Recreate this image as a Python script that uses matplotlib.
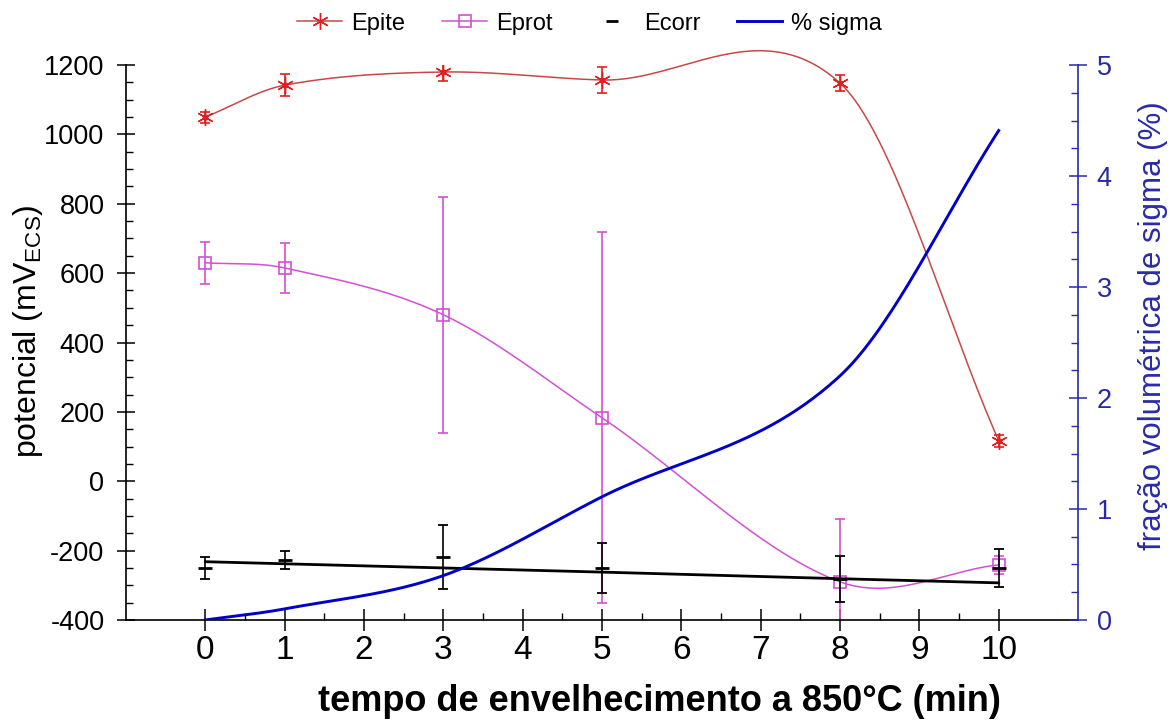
import numpy as np
import matplotlib
matplotlib.use("Agg")
import matplotlib.pyplot as plt
from matplotlib.lines import Line2D
from matplotlib.ticker import MultipleLocator, FixedLocator

plt.rcParams['font.family'] = ['Liberation Sans', 'DejaVu Sans']
plt.rcParams['mathtext.fontset'] = 'custom'
plt.rcParams['mathtext.rm'] = 'Liberation Sans'
plt.rcParams['axes.unicode_minus'] = False

# aging time (min)
tempo = [0, 1, 3, 5, 8, 10]

# pitting potential (mV)
epite = [1050, 1142, 1180, 1157, 1148, 117]
epite_err = [16, 32, 25, 37, 22, 17]

# protection potential (mV)
eprot = [630, 615, 480, 183, -290, -241]
eprot_err = [61, 72, 340, 535, 182, 26]

# corrosion potential (mV) and its fitted line
ecorr = [-250, -226, -218, -250, -282, -250]
ecorr_err = [32, 26, 92, 73, 67, 56]
ecorr_fit = [-232, -238, -250, -262, -281, -293]

# sigma phase volume fraction (%)
sigma = [0.0, 0.10, 0.40, 1.11, 2.20, 4.41]

C_EPITE = '#e02020'
C_EPITE_LINE = '#c84848'
C_EPROT = '#d54fd5'
C_SIGMA = '#0000c8'
C_RAXIS = '#2a2aa8'


def smooth_curve(x, y, n=300):
    """Cubic Hermite curve through the points, tangents from neighbours"""
    x = np.asarray(x, float)
    y = np.asarray(y, float)
    m = np.empty_like(y)
    m[0] = (y[1] - y[0]) / (x[1] - x[0])
    m[-1] = (y[-1] - y[-2]) / (x[-1] - x[-2])
    m[1:-1] = (y[2:] - y[:-2]) / (x[2:] - x[:-2])
    xs = np.linspace(x[0], x[-1], n)
    i = np.clip(np.searchsorted(x, xs) - 1, 0, len(x) - 2)
    h = x[i + 1] - x[i]
    t = (xs - x[i]) / h
    h00 = 2 * t ** 3 - 3 * t ** 2 + 1
    h10 = t ** 3 - 2 * t ** 2 + t
    h01 = -2 * t ** 3 + 3 * t ** 2
    h11 = t ** 3 - t ** 2
    ys = h00 * y[i] + h10 * h * m[i] + h01 * y[i + 1] + h11 * h * m[i + 1]
    return xs, ys


fig = plt.figure(figsize=(11.7, 7.23), dpi=100)
ax = fig.add_axes([0.1077, 0.1425, 0.8137, 0.7675])
ax2 = ax.twinx()

# Epite (the curve goes a bit above the top of the axis, as in the original)
xs, ys = smooth_curve(tempo, epite)
ax.plot(xs, ys, color=C_EPITE_LINE, lw=1.1, clip_on=False)
ax.errorbar(tempo, epite, yerr=epite_err, fmt='none', ecolor=C_EPITE,
            elinewidth=1.2, capsize=3.5, capthick=1.2)
ax.plot(tempo, epite, ls='none', marker=(6, 2, 0), ms=12, mec=C_EPITE, mew=1.0)
ax.plot(tempo, epite, ls='none', marker='o', ms=3, color=C_EPITE)

# Eprot
xs, ys = smooth_curve(tempo, eprot)
ax.plot(xs, ys, color=C_EPROT, lw=1.1)
ax.errorbar(tempo, eprot, yerr=eprot_err, fmt='none', ecolor=C_EPROT,
            elinewidth=1.2, capsize=3.5, capthick=1.2)
ax.plot(tempo, eprot, ls='none', marker='s', ms=9, mfc='none', mec=C_EPROT, mew=1.2)

# Ecorr
ax.plot(tempo, ecorr_fit, color='black', lw=2.0)
ax.errorbar(tempo, ecorr, yerr=ecorr_err, fmt='none', ecolor='black',
            elinewidth=1.2, capsize=3.5, capthick=1.3)
ax.plot(tempo, ecorr, ls='none', marker='_', ms=10, mew=2.0, color='black')

# % sigma
xs, ys = smooth_curve(tempo, sigma)
ax2.plot(xs, ys, color=C_SIGMA, lw=2.1)

# axes
ax.set_xlim(-1, 11)
ax.set_ylim(-400, 1200)
ax2.set_ylim(0, 5)
ax.set_xticks(np.arange(0, 11))
ax.xaxis.set_minor_locator(FixedLocator(np.arange(0.5, 10, 1.0)))
ax.yaxis.set_major_locator(MultipleLocator(200))
ax.yaxis.set_minor_locator(MultipleLocator(50))
ax2.yaxis.set_major_locator(MultipleLocator(1))
ax2.yaxis.set_minor_locator(MultipleLocator(0.25))

for s in ['top', 'right']:
    ax.spines[s].set_visible(False)
for s in ['top', 'left', 'bottom']:
    ax2.spines[s].set_visible(False)
ax2.spines['right'].set_color(C_RAXIS)
for s in ax.spines.values():
    s.set_linewidth(1.2)
ax2.spines['right'].set_linewidth(1.2)

ax.tick_params(axis='y', which='major', direction='inout', length=13, width=1.1,
               labelsize=19.5, pad=9)
ax.tick_params(axis='y', which='minor', direction='in', length=5, width=1.0)
ax.tick_params(axis='x', which='major', direction='inout', length=16, width=1.1,
               labelsize=24, pad=3)
ax.tick_params(axis='x', which='minor', direction='in', length=5, width=1.0)
ax2.tick_params(axis='y', which='major', direction='inout', length=13, width=1.1,
                labelsize=19.5, pad=7, colors=C_RAXIS)
ax2.tick_params(axis='y', which='minor', direction='in', length=5, width=1.0,
                colors=C_RAXIS)

ax.set_xlabel('tempo de envelhecimento a 850°C (min)', fontsize=26,
              fontweight='bold')
ax.xaxis.set_label_coords(0.56, -0.116)
ax.set_ylabel(r'potencial (mV$_{\mathrm{ECS}}$)', fontsize=23)
ax.yaxis.set_label_coords(-0.085, 0.52)
ax2.set_ylabel('fração volumétrica de sigma (%)', fontsize=22.5, color=C_RAXIS)
ax2.yaxis.set_label_coords(1.063, 0.531)

handles = [
    Line2D([], [], color=C_EPITE_LINE, lw=1.1, marker=(6, 2, 0), ms=12,
           mec=C_EPITE, mew=1.0),
    Line2D([], [], color=C_EPROT, lw=1.1, marker='s', ms=8, mfc='none',
           mec=C_EPROT, mew=1.2),
    Line2D([], [], ls='none', color='black', marker='_', ms=9, mew=2.0),
    Line2D([], [], color=C_SIGMA, lw=2.1),
]
fig.legend(handles, ['Epite', 'Eprot', 'Ecorr', '% sigma'], loc='upper center',
           bbox_to_anchor=(0.504, 1.012), ncol=4, frameon=False, fontsize=17,
           handlelength=1.9, handletextpad=0.4, columnspacing=1.55)

fig.savefig('out.png', dpi=100)
